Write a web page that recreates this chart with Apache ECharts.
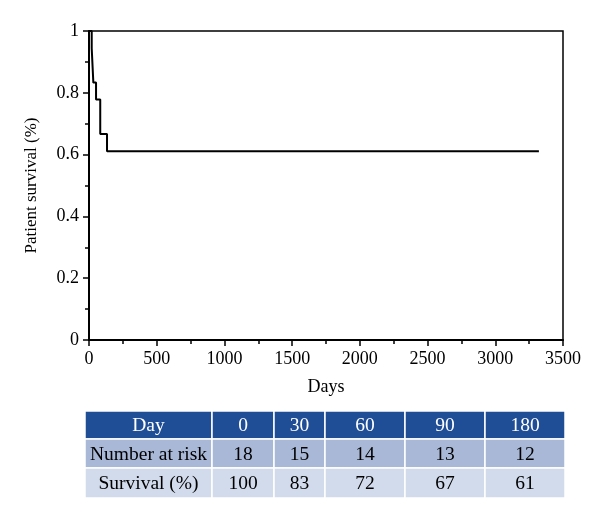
<!DOCTYPE html>
<html><head><meta charset="utf-8">
<script src="https://cdn.jsdelivr.net/npm/echarts@6/dist/echarts.min.js"></script>
<style>html,body{margin:0;padding:0;background:#fff}#c{width:600px;height:519px}</style>
</head><body><div id="c"></div>
<script>
var days = [0, 20, 32, 52, 83, 133, 3322];
var survival = [1, 0.944, 0.833, 0.778, 0.667, 0.611, 0.611];
var xTicks = [0, 500, 1000, 1500, 2000, 2500, 3000, 3500];
var yTicks = [0, 0.2, 0.4, 0.6, 0.8, 1];
var tableHeader = ['Day', '0', '30', '60', '90', '180'];
var numberAtRisk = ['Number at risk', '18', '15', '14', '13', '12'];
var survivalPct = ['Survival (%)', '100', '83', '72', '67', '61'];

var FONT = '"Liberation Serif", "DejaVu Serif", serif';
var chart = echarts.init(document.getElementById('c'), null, {renderer: 'canvas'});

var colX = [85, 212, 274, 325, 405, 485, 565];
var rowY = [411, 439, 468, 498];
var rowFill = ['#1F4E97', '#A8B8D6', '#D2DBEB'];
var rowText = ['#FFFFFF', '#000000', '#000000'];
var rows = [tableHeader, numberAtRisk, survivalPct];
var graphics = [];
rows.forEach(function (r, ri) {
  r.forEach(function (txt, ci) {
    var x0 = colX[ci], x1 = colX[ci + 1], y0 = rowY[ri], y1 = rowY[ri + 1];
    graphics.push({
      type: 'rect',
      shape: {x: x0, y: y0, width: x1 - x0, height: y1 - y0},
      style: {fill: rowFill[ri], stroke: '#FFFFFF', lineWidth: 1.5}
    });
    graphics.push({
      type: 'text',
      x: (x0 + x1) / 2, y: (y0 + y1) / 2 + 1,
      style: {text: txt, fill: rowText[ri], font: '19.5px ' + FONT, textAlign: 'center', textVerticalAlign: 'middle'}
    });
  });
});

chart.setOption({
  animation: false,
  grid: {left: 89, right: 37, top: 31, bottom: 179, show: true, borderColor: '#000', borderWidth: 1.5},
  xAxis: {
    type: 'value', min: 0, max: 3500, interval: 500,
    name: 'Days', nameLocation: 'middle', nameGap: 38,
    nameTextStyle: {fontFamily: FONT, fontSize: 18, color: '#000'},
    axisLine: {show: true, lineStyle: {color: '#000', width: 2}},
    axisTick: {show: true, inside: false, length: 6, lineStyle: {color: '#000', width: 1.5}},
    minorTick: {show: true, splitNumber: 2, length: 4, lineStyle: {color: '#000', width: 1.5}},
    axisLabel: {fontFamily: FONT, fontSize: 18, color: '#000', margin: 10,
      formatter: function (v) { return xTicks.indexOf(v) >= 0 ? String(v) : ''; }},
    splitLine: {show: false}
  },
  yAxis: {
    type: 'value', min: 0, max: 1, interval: 0.2,
    name: 'Patient survival (%)', nameLocation: 'middle', nameGap: 49,
    nameTextStyle: {fontFamily: FONT, fontSize: 17, color: '#000'},
    axisLine: {show: true, lineStyle: {color: '#000', width: 2}},
    axisTick: {show: true, inside: false, length: 6, lineStyle: {color: '#000', width: 1.5}},
    minorTick: {show: true, splitNumber: 2, length: 4, lineStyle: {color: '#000', width: 1.5}},
    axisLabel: {fontFamily: FONT, fontSize: 18, color: '#000', margin: 10,
      formatter: function (v) {
        var r = Math.round(v * 10) / 10;
        for (var i = 0; i < yTicks.length; i++) if (Math.abs(yTicks[i] - r) < 1e-6) return String(r);
        return '';
      }},
    splitLine: {show: false}
  },
  series: [{
    type: 'line', step: 'end', showSymbol: false, symbol: 'none',
    data: days.map(function (d, i) { return [d, survival[i]]; }),
    lineStyle: {color: '#000', width: 2}
  }],
  graphic: graphics
});
</script></body></html>
